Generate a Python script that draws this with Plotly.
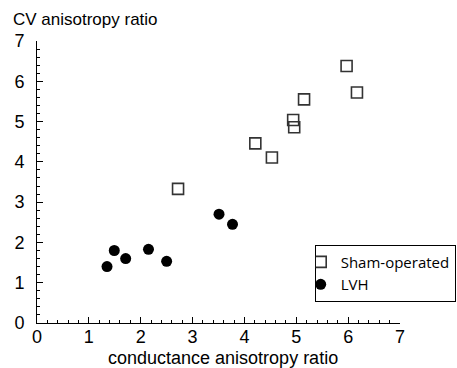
import plotly.graph_objects as go

sham_x = [2.72, 4.21, 4.53, 4.94, 4.96, 5.15, 5.97, 6.17]
sham_y = [3.33, 4.46, 4.11, 5.04, 4.86, 5.55, 6.38, 5.72]
lvh_x = [1.35, 1.49, 1.71, 2.15, 2.50, 3.51, 3.77]
lvh_y = [1.40, 1.80, 1.60, 1.83, 1.53, 2.70, 2.45]

fig = go.Figure()
fig.add_trace(go.Scatter(x=sham_x, y=sham_y, mode="markers", name="Sham-operated",
                         marker=dict(symbol="square-open", size=11, color="#333333",
                                     line=dict(width=1.6, color="#333333"))))
fig.add_trace(go.Scatter(x=lvh_x, y=lvh_y, mode="markers", name="LVH",
                         marker=dict(symbol="circle", size=11, color="black")))

axis_common = dict(range=[0, 7], tickmode="linear", tick0=0, dtick=1, ticks="inside", ticklen=6,
                   tickwidth=1, tickcolor="black", showline=True, linecolor="black", linewidth=1,
                   showgrid=False, zeroline=False, mirror=False,
                   tickfont=dict(family="Liberation Sans, Arial", size=18, color="black"),
                   minor=dict(dtick=0.2, tick0=0, ticks="inside", ticklen=3, tickwidth=1,
                              tickcolor="black", showgrid=False))
fig.update_xaxes(**axis_common, ticklabelstandoff=-3)
fig.update_yaxes(**axis_common, ticklabelstandoff=8)

fig.add_annotation(text="CV anisotropy ratio", xref="paper", yref="paper",
                   x=-0.072, y=1.075, xanchor="left", yanchor="middle", showarrow=False,
                   font=dict(family="Liberation Sans, Arial", size=17, color="black"))
fig.add_annotation(text="conductance anisotropy ratio", xref="paper", yref="paper",
                   x=0.512, y=-0.124, xanchor="center", yanchor="middle", showarrow=False,
                   font=dict(family="Liberation Sans, Arial", size=18, color="black"))

fig.update_layout(width=457, height=368, margin=dict(l=37, r=57, t=41, b=45, autoexpand=False),
                  plot_bgcolor="white", paper_bgcolor="white",
                  showlegend=True,
                  legend=dict(x=0.765, y=0.278, xanchor="left", yanchor="top",
                              bordercolor="black", borderwidth=1, bgcolor="white",
                              font=dict(family="Open Sans, Liberation Sans", size=15, color="black"),
                              tracegroupgap=0, itemwidth=30, indentation=-15))

fig.write_html("out.html")
